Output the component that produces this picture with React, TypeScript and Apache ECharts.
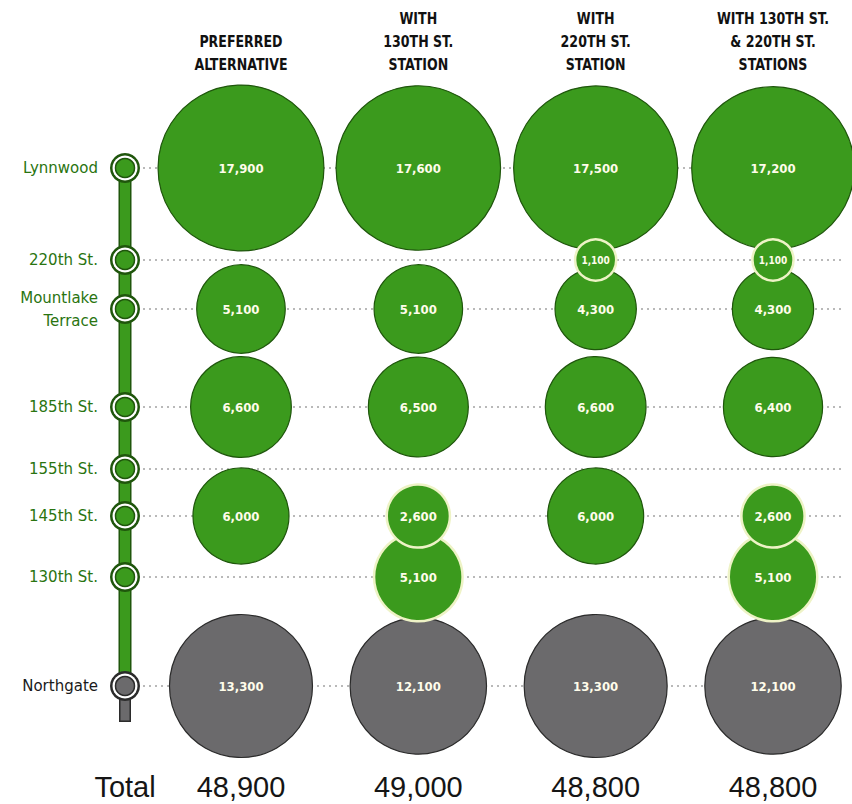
import React, { useEffect, useRef } from "react";
import * as echarts from "echarts";

// Stations along the line, north to south, and their relative distance along the line
const stations = ["Lynnwood", "220th St.", "Mountlake\nTerrace", "185th St.", "155th St.", "145th St.", "130th St.", "Northgate"];
const stationPos = [0, 92, 141, 239, 301, 348, 409, 518];
const lineEnd = 554;

// Alternatives (columns)
const alternatives = [
  "PREFERRED\nALTERNATIVE",
  "WITH\n130TH ST.\nSTATION",
  "WITH\n220TH ST.\nSTATION",
  "WITH 130TH ST.\n& 220TH ST.\nSTATIONS",
];

// Daily boardings per station (null = no station)
const preferred = [17900, null, 5100, 6600, null, 6000, null, 13300];
const with130th = [17600, null, 5100, 6500, null, 2600, 5100, 12100];
const with220th = [17500, 1100, 4300, 6600, null, 6000, null, 13300];
const withBoth = [17200, 1100, 4300, 6400, null, 2600, 5100, 12100];
const columns = [preferred, with130th, with220th, withBoth];

const totalLabel = "Total";

const GREEN = "#3b9a1d";
const DARK_GREEN = "#1f560c";
const GREY = "#6b6a6c";
const DARK_GREY = "#2b2b2b";
const CREAM = "#eef3c6";
const STATION_X = -0.654;
const X_MAX = 3.406;
const SIZE_K = 1.24;
const drawOrder = [0, 2, 3, 4, 6, 5, 1];

const diam = (v: number) => SIZE_K * Math.sqrt(v);

export default function App() {
  const ref = useRef<HTMLDivElement>(null);
  useEffect(() => {
    document.body.style.margin = "0";
    const chart = echarts.init(ref.current!, null, { renderer: "svg" });
    const lastIdx = stations.length - 1;

    const overlapsEarlier = (col: number, s: number, order: number[]) => {
      const v = columns[col][s] as number;
      const r = diam(v) / 2;
      const pos = order.indexOf(s);
      const earlier = [lastIdx, ...order.slice(0, pos)];
      return earlier.some((o) => {
        const w = columns[col][o];
        if (w == null || o === s) return false;
        return Math.abs(stationPos[o] - stationPos[s]) < r + diam(w) / 2;
      });
    };

    const labelFont = "'DejaVu Sans Condensed', 'Liberation Sans Narrow', sans-serif";
    const greenData: any[] = [];
    const greyData: any[] = [];
    columns.forEach((col, c) => {
      drawOrder.forEach((s) => {
        const v = col[s];
        if (v == null) return;
        const cream = overlapsEarlier(c, s, drawOrder);
        greenData.push({
          value: [c, stationPos[s], v],
          itemStyle: {
            color: GREEN,
            opacity: 1,
            borderColor: cream ? CREAM : DARK_GREEN,
            borderWidth: cream ? 2.5 : 1.2,
          },
          label: { fontSize: v < 2000 ? 10 : 13 },
        });
      });
      const g = col[lastIdx];
      if (g != null) greyData.push({ value: [c, stationPos[lastIdx], g] });
    });

    const bubbleLabel = {
      show: true,
      position: "inside",
      formatter: (p: any) => p.value[2].toLocaleString("en-US"),
      color: "#fffcea",
      fontWeight: "bold",
      fontFamily: labelFont,
      fontSize: 13,
    };

    const stationData = stations.map((name, i) => ({
      value: [STATION_X, stationPos[i]],
      name,
    }));

    const dotted = {
      silent: true,
      z: 1,
      symbol: ["none", "none"],
      label: { show: false },
      lineStyle: { type: [2, 4], color: "#b9b9b9", width: 2, opacity: 1 },
      data: stationPos.map((p) => ({ yAxis: p })),
    };

    chart.setOption({
      animation: false,
      grid: { left: 125, right: 7, top: 168, bottom: 82 },
      xAxis: { type: "value", min: STATION_X, max: X_MAX, show: false },
      yAxis: { type: "value", inverse: true, min: 0, max: lineEnd, show: false },
      series: [
        {
          type: "line",
          z: 1,
          data: [],
          markLine: dotted,
        },
        {
          type: "scatter",
          z: 2,
          clip: false,
          data: greyData,
          symbolSize: (v: number[]) => diam(v[2]),
          itemStyle: { color: GREY, borderColor: DARK_GREY, borderWidth: 1.2, opacity: 1 },
          label: bubbleLabel,
        },
        {
          type: "scatter",
          z: 3,
          clip: false,
          data: greenData,
          symbolSize: (v: number[]) => diam(v[2]),
          label: bubbleLabel,
        },
        // track line
        {
          type: "line",
          z: 4,
          symbol: "none",
          data: [[STATION_X, stationPos[0]], [STATION_X, stationPos[lastIdx]]],
          lineStyle: { color: DARK_GREEN, width: 13, cap: "butt" },
        },
        {
          type: "line",
          z: 4,
          symbol: "none",
          data: [[STATION_X, stationPos[0]], [STATION_X, stationPos[lastIdx]]],
          lineStyle: { color: GREEN, width: 10, cap: "butt" },
        },
        {
          type: "line",
          z: 4,
          symbol: "none",
          data: [[STATION_X, stationPos[lastIdx]], [STATION_X, lineEnd]],
          lineStyle: { color: DARK_GREY, width: 12, cap: "butt" },
        },
        {
          type: "line",
          z: 4,
          symbol: "none",
          data: [[STATION_X, stationPos[lastIdx]], [STATION_X, lineEnd - 1.5]],
          lineStyle: { color: GREY, width: 9, cap: "butt" },
        },
        // station markers
        {
          type: "scatter",
          z: 5,
          clip: false,
          symbolSize: 30,
          data: stationData.map((d, i) => ({
            ...d,
            itemStyle: { color: i === lastIdx ? DARK_GREY : DARK_GREEN, opacity: 1 },
            label: { color: i === lastIdx ? "#1a1a1a" : "#2a7410" },
          })),
          label: {
            show: true,
            position: "left",
            distance: 12,
            formatter: (p: any) => p.name,
            fontFamily: "'DejaVu Sans', sans-serif",
            fontSize: 15,
            lineHeight: 23,
            align: "right",
          },
        },
        {
          type: "scatter",
          z: 6,
          clip: false,
          symbolSize: 25,
          data: stationData,
          itemStyle: { color: "#ffffff", opacity: 1 },
        },
        {
          type: "scatter",
          z: 7,
          clip: false,
          symbolSize: 19,
          data: stationData.map((d, i) => ({
            ...d,
            itemStyle: {
              color: i === lastIdx ? GREY : GREEN,
              borderColor: i === lastIdx ? DARK_GREY : DARK_GREEN,
              borderWidth: 1.5,
              opacity: 1,
            },
          })),
        },
      ],
    });

    const graphics: any[] = [];
    alternatives.forEach((t, i) => {
      const x = chart.convertToPixel({ xAxisIndex: 0 }, i) as number;
      graphics.push({
        type: "text",
        x,
        y: 76,
        scaleY: 1.15,
        style: {
          text: t,
          align: "center",
          verticalAlign: "bottom",
          fontSize: 14,
          fontWeight: "bold",
          fontFamily: labelFont,
          lineHeight: 20,
          fill: "#111",
        },
      });
      const total = columns[i].reduce((a: number, b) => a + (b ?? 0), 0);
      graphics.push({
        type: "text",
        x,
        y: 787,
        style: {
          text: total.toLocaleString("en-US"),
          align: "center",
          verticalAlign: "middle",
          fontSize: 29,
          fontFamily: "'Liberation Sans', Arial, sans-serif",
          fill: "#151515",
        },
      });
    });
    graphics.push({
      type: "text",
      x: chart.convertToPixel({ xAxisIndex: 0 }, STATION_X) as number,
      y: 787,
      style: {
        text: totalLabel,
        align: "center",
        verticalAlign: "middle",
        fontSize: 29,
        fontFamily: "'Liberation Sans', Arial, sans-serif",
        fill: "#151515",
      },
    });
    chart.setOption({ graphic: graphics });

    return () => chart.dispose();
  }, []);
  return <div ref={ref} style={{ width: 852, height: 804 }} />;
}
